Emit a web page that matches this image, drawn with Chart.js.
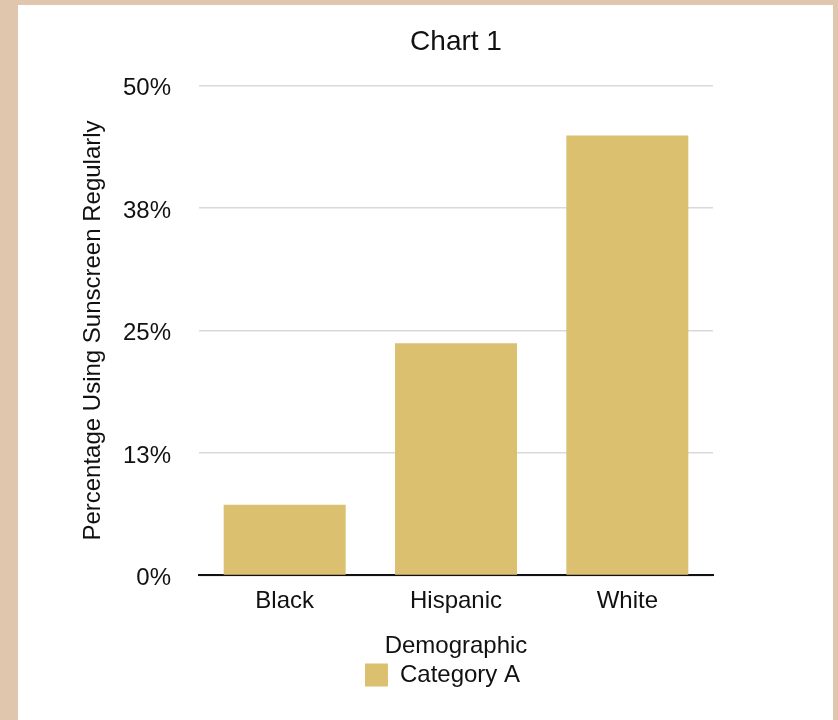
<!DOCTYPE html>
<html>
<head>
<meta charset="utf-8">
<script src="https://cdn.jsdelivr.net/npm/chart.js@4"></script>
<style>
  html, body { margin: 0; padding: 0; }
  body { width: 838px; height: 720px; background: #dfc6ac; position: relative; overflow: hidden; }
  #panel { position: absolute; left: 18px; top: 5px; width: 815px; height: 715px; background: #ffffff; }
  #wrap { position: absolute; left: 37px; top: 0px; width: 778px; height: 715px; }
</style>
</head>
<body>
<div id="panel"><div id="wrap"><canvas id="c"></canvas></div></div>
<script>
const categories = ['Black', 'Hispanic', 'White'];
const seriesName = 'Category A';
const values = [7.2, 23.7, 44.9];
const yTickLabels = ['0%', '13%', '25%', '38%', '50%'];
const chartTitle = 'Chart 1';
const xTitle = 'Demographic';
const yTitle = 'Percentage Using Sunscreen Regularly';

const FONT = "'Liberation Sans', Arial, Helvetica, sans-serif";
const BAR = '#dbc06f';

new Chart(document.getElementById('c'), {
  type: 'bar',
  data: {
    labels: categories,
    datasets: [{
      label: seriesName,
      data: values,
      backgroundColor: BAR,
      borderWidth: 0,
      barPercentage: 0.712,
      categoryPercentage: 1.0
    }]
  },
  options: {
    responsive: true,
    maintainAspectRatio: false,
    animation: false,
    layout: { padding: { left: 20, right: 23, top: 0, bottom: 23 } },
    plugins: {
      title: {
        display: true,
        text: chartTitle,
        fullSize: false,
        color: '#111111',
        font: { family: FONT, size: 28, weight: 'normal' },
        padding: { top: 20, bottom: 27 }
      },
      legend: {
        display: true,
        position: 'bottom',
        fullSize: true,
        labels: {
          color: '#111111',
          font: { family: FONT, size: 24 },
          boxWidth: 23,
          boxHeight: 23,
          padding: 2
        }
      },
      tooltip: { enabled: false }
    },
    scales: {
      x: {
        z: 1,
        grid: { display: false, drawTicks: false },
        border: { display: true, color: '#111111', width: 2 },
        ticks: { color: '#111111', font: { family: FONT, size: 24 }, padding: 12 },
        title: {
          display: true,
          text: xTitle,
          color: '#111111',
          font: { family: FONT, size: 24 },
          padding: { top: 4, bottom: 0 }
        }
      },
      y: {
        z: 1,
        min: 0,
        max: 50,
        afterFit: function (s) { s.width = 124; },
        ticks: {
          stepSize: 12.5,
          color: '#111111',
          font: { family: FONT, size: 24 },
          padding: 28,
          labelOffset: 3,
          callback: function (v, i) { return yTickLabels[i]; }
        },
        grid: { color: 'rgba(0,0,0,0.15)', lineWidth: 1.5, drawTicks: false },
        border: { display: false },
        title: {
          display: true,
          text: yTitle,
          color: '#111111',
          font: { family: FONT, size: 24 },
          padding: { top: 4, bottom: 15 }
        }
      },
      yRightSpace: {
        position: 'right',
        display: true,
        afterFit: function (s) { s.width = 97; },
        grid: { display: false, drawTicks: false },
        border: { display: false },
        ticks: { display: false }
      }
    }
  }
});
</script>
</body>
</html>
